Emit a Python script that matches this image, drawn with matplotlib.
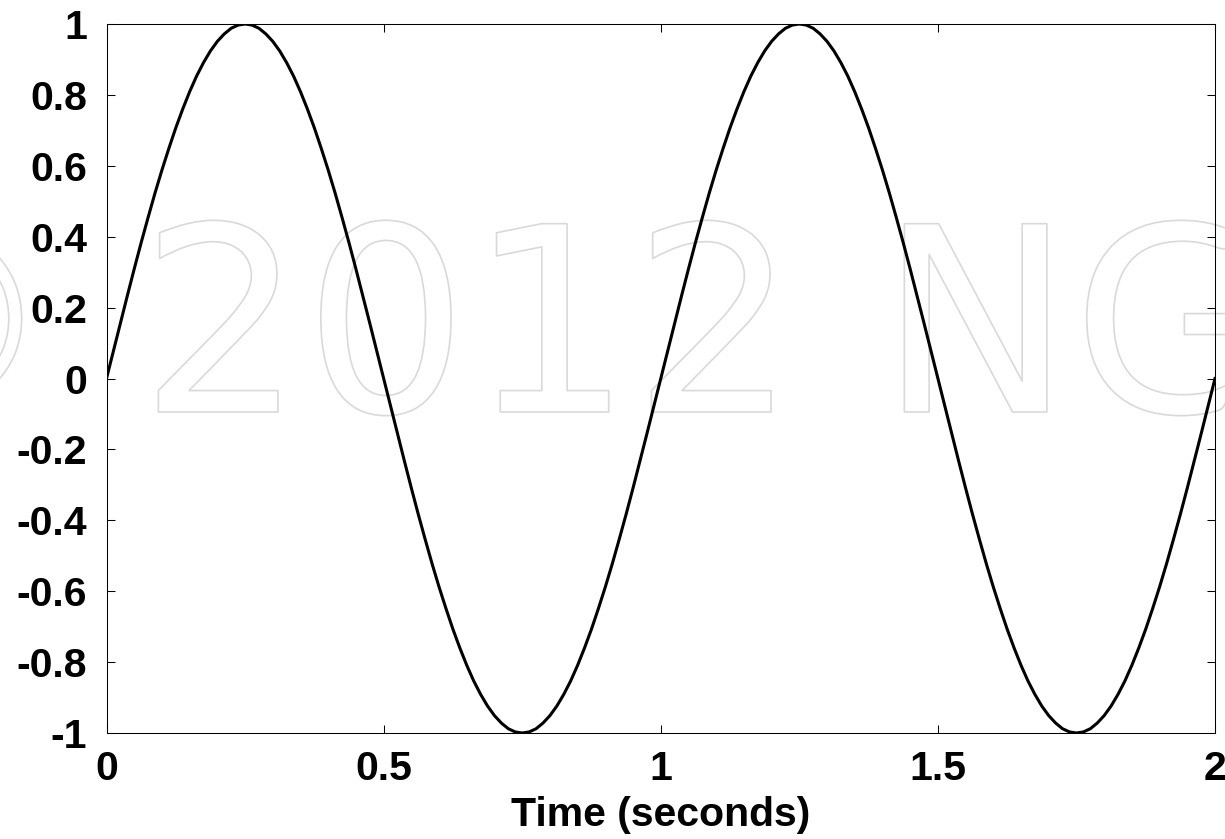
import matplotlib
matplotlib.use("Agg")
import matplotlib.pyplot as plt
import matplotlib.patheffects as pe

# sample times (s) and signal amplitude
time_s = [
    0.0000, 0.0125, 0.0250, 0.0375, 0.0500, 0.0625, 0.0750, 0.0875, 0.1000, 0.1125,
    0.1250, 0.1375, 0.1500, 0.1625, 0.1750, 0.1875, 0.2000, 0.2125, 0.2250, 0.2375,
    0.2500, 0.2625, 0.2750, 0.2875, 0.3000, 0.3125, 0.3250, 0.3375, 0.3500, 0.3625,
    0.3750, 0.3875, 0.4000, 0.4125, 0.4250, 0.4375, 0.4500, 0.4625, 0.4750, 0.4875,
    0.5000, 0.5125, 0.5250, 0.5375, 0.5500, 0.5625, 0.5750, 0.5875, 0.6000, 0.6125,
    0.6250, 0.6375, 0.6500, 0.6625, 0.6750, 0.6875, 0.7000, 0.7125, 0.7250, 0.7375,
    0.7500, 0.7625, 0.7750, 0.7875, 0.8000, 0.8125, 0.8250, 0.8375, 0.8500, 0.8625,
    0.8750, 0.8875, 0.9000, 0.9125, 0.9250, 0.9375, 0.9500, 0.9625, 0.9750, 0.9875,
    1.0000, 1.0125, 1.0250, 1.0375, 1.0500, 1.0625, 1.0750, 1.0875, 1.1000, 1.1125,
    1.1250, 1.1375, 1.1500, 1.1625, 1.1750, 1.1875, 1.2000, 1.2125, 1.2250, 1.2375,
    1.2500, 1.2625, 1.2750, 1.2875, 1.3000, 1.3125, 1.3250, 1.3375, 1.3500, 1.3625,
    1.3750, 1.3875, 1.4000, 1.4125, 1.4250, 1.4375, 1.4500, 1.4625, 1.4750, 1.4875,
    1.5000, 1.5125, 1.5250, 1.5375, 1.5500, 1.5625, 1.5750, 1.5875, 1.6000, 1.6125,
    1.6250, 1.6375, 1.6500, 1.6625, 1.6750, 1.6875, 1.7000, 1.7125, 1.7250, 1.7375,
    1.7500, 1.7625, 1.7750, 1.7875, 1.8000, 1.8125, 1.8250, 1.8375, 1.8500, 1.8625,
    1.8750, 1.8875, 1.9000, 1.9125, 1.9250, 1.9375, 1.9500, 1.9625, 1.9750, 1.9875,
    2.0000,
]
amplitude = [
    0.000, 0.078, 0.156, 0.233, 0.309, 0.383, 0.454, 0.523, 0.588, 0.649,
    0.707, 0.760, 0.809, 0.853, 0.891, 0.924, 0.951, 0.972, 0.988, 0.997,
    1.000, 0.997, 0.988, 0.972, 0.951, 0.924, 0.891, 0.853, 0.809, 0.760,
    0.707, 0.649, 0.588, 0.523, 0.454, 0.383, 0.309, 0.233, 0.156, 0.078,
    0.000, -0.078, -0.156, -0.233, -0.309, -0.383, -0.454, -0.523, -0.588, -0.649,
    -0.707, -0.760, -0.809, -0.853, -0.891, -0.924, -0.951, -0.972, -0.988, -0.997,
    -1.000, -0.997, -0.988, -0.972, -0.951, -0.924, -0.891, -0.853, -0.809, -0.760,
    -0.707, -0.649, -0.588, -0.523, -0.454, -0.383, -0.309, -0.233, -0.156, -0.078,
    0.000, 0.078, 0.156, 0.233, 0.309, 0.383, 0.454, 0.523, 0.588, 0.649,
    0.707, 0.760, 0.809, 0.853, 0.891, 0.924, 0.951, 0.972, 0.988, 0.997,
    1.000, 0.997, 0.988, 0.972, 0.951, 0.924, 0.891, 0.853, 0.809, 0.760,
    0.707, 0.649, 0.588, 0.523, 0.454, 0.383, 0.309, 0.233, 0.156, 0.078,
    0.000, -0.078, -0.156, -0.233, -0.309, -0.383, -0.454, -0.523, -0.588, -0.649,
    -0.707, -0.760, -0.809, -0.853, -0.891, -0.924, -0.951, -0.972, -0.988, -0.997,
    -1.000, -0.997, -0.988, -0.972, -0.951, -0.924, -0.891, -0.853, -0.809, -0.760,
    -0.707, -0.649, -0.588, -0.523, -0.454, -0.383, -0.309, -0.233, -0.156, -0.078,
    0.000,
]
xticks = [0, 0.5, 1, 1.5, 2]
xtick_labels = ["0", "0.5", "1", "1.5", "2"]
yticks = [-1, -0.8, -0.6, -0.4, -0.2, 0, 0.2, 0.4, 0.6, 0.8, 1]
ytick_labels = ["-1", "-0.8", "-0.6", "-0.4", "-0.2", "0", "0.2", "0.4", "0.6", "0.8", "1"]

plt.rcParams["font.family"] = ["Liberation Sans", "DejaVu Sans"]

W, H = 1225, 839
fig = plt.figure(figsize=(W / 100, H / 100), dpi=100)
ax = fig.add_axes([106.5 / W, 1 - 733 / H, (1215 - 106.5) / W, (733 - 24) / H])
ax.patch.set_visible(False)

# watermark behind the axes
fig.text(536 / W, 1 - 412 / H, "\u00a9 2012 NG", ha="center", va="baseline",
         fontsize=186, family="DejaVu Sans", color="none", zorder=-1,
         path_effects=[pe.Stroke(linewidth=1.2, foreground="#d9d9d9")])

ax.plot(time_s, amplitude, color="black", lw=2.2, solid_joinstyle="round")
ax.set_xlim(0, 2)
ax.set_ylim(-1, 1)
ax.set_xticks(xticks)
ax.set_xticklabels(xtick_labels)
ax.set_yticks(yticks)
ax.set_yticklabels(ytick_labels)
ax.tick_params(direction="in", length=6, width=0.75, top=True, right=True,
               labelsize=29.5)
ax.tick_params(axis="x", pad=12)
ax.tick_params(axis="y", pad=14)
for lab in ax.get_xticklabels() + ax.get_yticklabels():
    lab.set_fontweight("bold")
for s in ax.spines.values():
    s.set_linewidth(0.75)
ax.set_xlabel("Time (seconds)", fontsize=29.5, fontweight="bold", labelpad=6)

fig.savefig("out.png", dpi=100)
